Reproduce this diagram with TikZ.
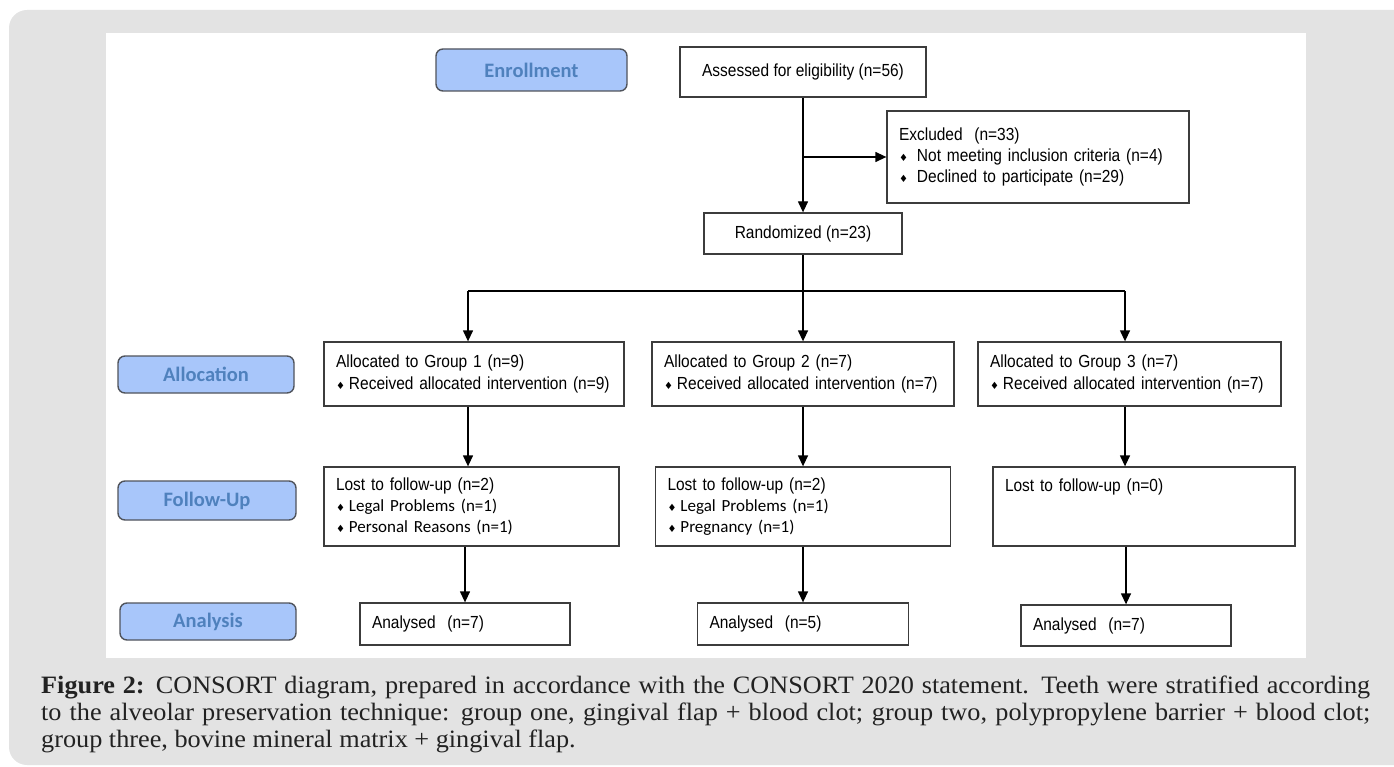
\documentclass[tikz,border=0pt]{standalone}
\usepackage{fontspec}
\newfontfamily\boxfont[FakeStretch=0.885]{Liberation Sans}
\newfontfamily\notefont{Carlito}
\newfontfamily\capfont[FakeStretch=1.05]{Liberation Serif}
\newfontfamily\symfont{DejaVu Sans}
\usetikzlibrary{arrows.meta}
\definecolor{bggray}{RGB}{227,227,227}
\definecolor{boxline}{RGB}{60,60,60}
\definecolor{phasefill}{RGB}{168,198,250}
\definecolor{phasetext}{RGB}{79,129,189}
\definecolor{phaseline}{RGB}{80,84,92}
\definecolor{captext}{RGB}{34,34,34}
\newcommand{\dia}[1]{{\symfont\fontsize{10}{10}\selectfont ♦}\hspace{#1}}
\newcommand{\notes}{\notefont\fontsize{17}{21}\selectfont}

\begin{document}
\begin{tikzpicture}[x=1pt, y=-1pt, >={Triangle[length=11pt,width=10pt]}]
\tikzstyle{phase}=[draw=phaseline, line width=1.4pt, fill=phasefill, rounded corners=7pt, text=phasetext, font=\notefont\bfseries\fontsize{20.5}{24}\selectfont, inner sep=0pt]
\tikzstyle{stage}=[draw=boxline, line width=1.3pt, inner xsep=12pt, inner ysep=0pt, align=left, font=\boxfont\fontsize{17.5}{21}\selectfont]
\tikzstyle{flow}=[->, line width=1.3pt]
\tikzstyle{link}=[line width=1.3pt]

\clip (0,0) rectangle (1394,767);
\fill[bggray, rounded corners=18pt] (9,10) rectangle (1412,765);
\fill[white] (106,33) rectangle (1306,658);

% phase labels
\node[phase, minimum width=191pt, minimum height=42pt] (enrol) at (531.5,70) {Enrollment};
\node[phase, minimum width=176pt, minimum height=37pt] (alloc) at (206,374.5) {Allocation};
\node[phase, minimum width=178pt, minimum height=39pt] (follow) at (207,500.5) {Follow-Up};
\node[phase, minimum width=176pt, minimum height=37pt] (anal) at (208,621.5) {Analysis};

% enrollment
\node[stage, align=center, minimum width=246pt, minimum height=50pt] (assess) at (803,72) {Assessed for eligibility (n=56)};
\node[stage, text width=278pt, minimum height=92pt] (excl) at (1038,157) {Excluded\ \ (n=33)\\
  \dia{9pt}Not meeting inclusion criteria (n=4)\\
  \dia{9pt}Declined to participate (n=29)};
\node[stage, align=center, minimum width=198pt, minimum height=41pt] (rand) at (803,233.5) {Randomized (n=23)};

% allocation
\node[stage, text width=276pt, minimum height=64pt] (grp1) at (474,374) {Allocated to Group 1 (n=9)\\[1.5pt]
  \dia{4pt}Received allocated intervention (n=9)};
\node[stage, text width=278pt, minimum height=64pt] (grp2) at (803,374) {Allocated to Group 2 (n=7)\\[1.5pt]
  \dia{4pt}Received allocated intervention (n=7)};
\node[stage, text width=279pt, minimum height=64pt] (grp3) at (1129.5,374) {Allocated to Group 3 (n=7)\\[1.5pt]
  \dia{4pt}Received allocated intervention (n=7)};

% follow-up
\node[stage, text width=271pt, minimum height=79pt] (fu1) at (471.5,506.5) {Lost to follow-up (n=2)\\
  {\notes\dia{4pt}Legal Problems (n=1)}\\
  {\notes\dia{4pt}Personal Reasons (n=1)}};
\node[stage, text width=271pt, minimum height=79pt] (fu2) at (803,506.5) {Lost to follow-up (n=2)\\
  {\notes\dia{4pt}Legal Problems (n=1)}\\
  {\notes\dia{4pt}Pregnancy (n=1)}};
\node[stage, text width=278pt, minimum height=79pt] (fu3) at (1144,506.5) {Lost to follow-up (n=0)\\ \mbox{}\\ \mbox{}};

% analysis
\node[stage, text width=186pt, minimum height=42pt] (an1) at (465,624) {Analysed\ \ (n=7)};
\node[stage, text width=187pt, minimum height=42pt] (an2) at (803,624) {Analysed\ \ (n=5)};
\node[stage, text width=186pt, minimum height=41pt] (an3) at (1126,625.5) {Analysed\ \ (n=7)};

% connectors
\coordinate (b1) at (468,291);
\coordinate (b3) at (1125,291);
\draw[flow] (assess) -- (rand);
\draw[flow] (assess.south |- excl.west) -- (excl.west);
\draw[link] (rand.south) -- (rand.south |- b1);
\draw[link] (b1) -- (b3);
\draw[flow] (b1) -- (b1 |- grp1.north);
\draw[flow] (rand.south |- b1) -- (grp2);
\draw[flow] (b3) -- (b3 |- grp3.north);
\draw[flow] (grp1.south -| b1) -- (fu1.north -| b1);
\draw[flow] (grp2) -- (fu2);
\draw[flow] (grp3.south -| b3) -- (fu3.north -| b3);
\draw[flow] (fu1.south -| an1) -- (an1);
\draw[flow] (fu2) -- (an2);
\draw[flow] (fu3.south -| an3) -- (an3);

% caption
\node[anchor=north west, inner sep=0pt, align=left, text=captext, font=\capfont\fontsize{25}{27}\selectfont] (cap) at (41,676) {\makebox[1329pt][s]{\textbf{Figure 2:} CONSORT diagram, prepared in accordance with the CONSORT 2020 statement. Teeth were stratified according}\\
  \makebox[1329pt][s]{to the alveolar preservation technique: group one, gingival flap + blood clot; group two, polypropylene barrier + blood clot;}\\
  group three, bovine mineral matrix + gingival flap.};
\end{tikzpicture}
\end{document}
